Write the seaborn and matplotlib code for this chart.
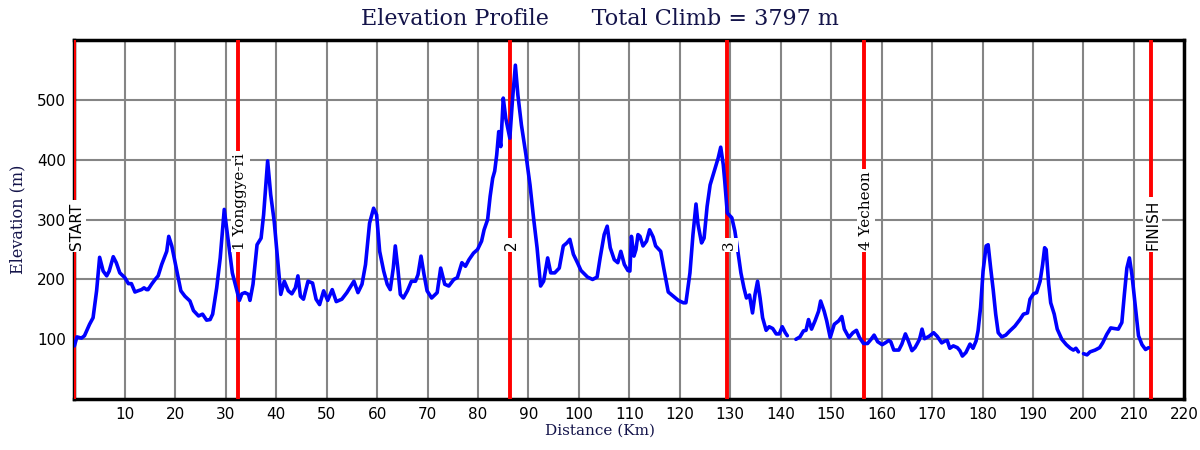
import numpy as np
import pandas as pd
import matplotlib
matplotlib.use('Agg')
import matplotlib.pyplot as plt
import seaborn as sns

# --- Data ---
nan = np.nan
km = [0.0, 0.5, 1.4, 2.0, 3.0, 3.7, 4.4, 5.0, 5.7, 6.4, 6.9, 7.7, 8.3, 9.0, 10.0, 10.7, 11.3, 12.0,
      12.6, 13.3, 13.8, 14.3, 14.6, 15.3, 16.0, 16.6, 17.3, 18.3, 18.7, 19.3, 20.3, 21.1, 21.9, 22.9,
      23.6, 24.6, 25.4, 26.2, 26.9, 27.4, 28.2, 28.9, 29.7, 30.5, 31.3, 32.2, 32.7, 33.2, 33.8, 34.5,
      34.8, 35.4, 36.2, 37.0, 37.5, 38.3, 38.9, 39.6, 40.3, 40.9, 41.6, 42.4, 43.1, 43.8, 44.3, 44.8,
      45.4, 46.3, 47.2, 47.9, 48.6, 49.4, 50.2, 51.1, 51.9, 53.0, 54.0, 55.4, 56.2, 57.0, 57.7, 58.5,
      59.3, 59.9, 60.5, 61.3, 62.0, 62.6, 63.2, 63.6, 64.1, 64.6, 65.2, 66.0, 66.8, 67.6, 68.1, 68.7,
      69.3, 69.9, 70.8, 71.9, 72.6, 73.4, 74.2, 75.2, 75.9, 76.8, 77.5, 78.2, 79.1, 79.9, 80.7, 81.2,
      81.9, 82.4, 82.9, 83.3, 83.7, 84.1, 84.5, 85.0, 85.5, 86.3, 86.8, 87.4, 87.9, 88.6, 89.5, 90.3,
      91.0, 91.7, 92.4, 93.0, 93.8, 94.4, 95.2, 96.1, 96.9, 97.6, 98.2, 98.9, 99.7, 100.4, 101.7,
      102.7, 103.6, 104.2, 105.0, 105.6, 106.2, 107.0, 107.7, 108.3, 109.0, 109.7, 110.1, 110.4,
      110.9, 111.3, 111.7, 112.1, 112.7, 113.4, 114.0, 114.7, 115.2, 116.2, 116.8, 117.7, 118.7,
      119.7, 120.7, 121.2, 122.0, 122.6, 123.2, 123.6, 124.3, 124.8, 125.4, 126.0, 126.6, 127.2,
      127.6, 128.1, 128.6, 128.9, 129.4, 130.3, 130.9, 131.4, 132.1, 132.7, 133.2, 133.8, 134.4,
      134.9, 135.4, 135.9, 136.4, 137.1, 137.7, 138.4, 139.1, 139.7, 140.3, 140.9, 141.3, 142.1,
      143.0, 143.8, 144.5, 145.0, 145.5, 146.1, 146.8, 147.5, 147.9, 148.6, 149.1, 149.8, 150.6,
      151.5, 152.1, 152.6, 153.5, 154.3, 155.0, 155.6, 156.4, 157.2, 157.9, 158.5, 159.2, 160.1,
      160.7, 161.4, 161.8, 162.4, 163.4, 164.0, 164.7, 165.3, 166.0, 166.6, 167.0, 167.5, 168.0,
      168.5, 169.4, 170.3, 171.0, 171.9, 172.5, 173.0, 173.5, 174.2, 175.0, 175.5, 176.0, 176.7,
      177.5, 178.1, 178.7, 179.1, 179.6, 180.1, 180.7, 181.1, 181.6, 182.1, 182.6, 183.1, 183.8,
      184.6, 185.4, 186.4, 187.4, 188.1, 188.9, 189.4, 190.1, 190.7, 191.4, 191.9, 192.3, 192.6,
      193.1, 193.5, 194.2, 194.8, 195.7, 196.6, 197.4, 198.0, 198.5, 199.0, 199.5, 200.0, 200.7,
      201.3, 202.3, 203.2, 203.8, 204.6, 205.4, 206.1, 206.9, 207.6, 208.1, 208.6, 209.1, 209.6,
      210.3, 210.9, 211.6, 212.3, 212.9]
elev = [89, 104, 102, 106, 125, 136, 181, 237, 214, 206, 214, 238, 228, 211, 203, 193, 193, 179,
        181, 183, 186, 183, 183, 192, 200, 206, 225, 247, 272, 256, 214, 181, 172, 164,
        148, 139, 142, 132, 133, 142, 186, 236, 317, 264, 211, 181, 165, 176, 178, 175,
        165, 192, 258, 269, 308, 398, 342, 297, 231, 175, 197, 181, 176, 186, 206, 172,
        167, 197, 194, 167, 158, 181, 165, 183, 163, 167, 178, 197, 178, 192, 225, 294,
        319, 308, 247, 214, 192, 183, 219, 256, 219, 175, 169, 181, 197, 197, 208, 239,
        208, 181, 169, 178, 219, 192, 189, 200, 203, 228, 222, 233, 244, 250, 264, 283,
        300, 339, 369, 381, 408, 447, 422, 503, 469, 436, 497, 558, 508, 458, 408, 358,
        303, 253, 189, 197, 236, 211, 211, 219, 256, 261, 267, 242, 228, 215, 204,
        200, 204, 236, 275, 289, 253, 233, 228, 247, 225, 215, 214, 272,
        239, 250, 275, 272, 256, 264, 283, 271, 256, 247, 219, 179, 172,
        165, 161, 161, 211, 275, 326, 292, 261, 269, 322, 358, 375, 392,
        403, 421, 392, 364, 311, 303, 281, 253, 211, 186, 169, 174, 144,
        175, 197, 169, 136, 115, 121, 118, 109, 109, 121, 111, 106, nan,
        100, 104, 114, 115, 133, 117, 131, 147, 164, 147, 131, 103, 125,
        131, 138, 117, 103, 111, 115, 103, 93, 93, 100, 107, 96, 91,
        94, 98, 96, 82, 82, 92, 109, 97, 81, 86, 92, 100, 117,
        101, 105, 111, 105, 94, 97, 98, 85, 89, 86, 81, 72, 78,
        92, 85, 97, 114, 153, 214, 256, 258, 219, 183, 142, 111, 104,
        107, 114, 122, 133, 142, 144, 167, 176, 178, 197, 225, 253, 250,
        192, 161, 142, 117, 100, 91, 85, 82, 85, 79, nan, 76, 74,
        79, 82, 86, 94, 108, 119, 118, 117, 128, 175, 219, 236, 208,
        153, 106, 91, 83, 86]

# checkpoint markers
cp_km = [0.0, 32.5, 86.3, 129.4, 156.5, 213.3]
cp_names = ['START', '1 Yonggye-ri', '2', '3', '4 Yecheon', 'FINISH']
cp_fonts = ['DejaVu Sans', 'DejaVu Serif', 'DejaVu Sans', 'DejaVu Serif', 'DejaVu Serif', 'DejaVu Sans']

x_ticks = list(range(10, 230, 10))
y_ticks = [100, 200, 300, 400, 500]

# split the profile where there are gaps
df = pd.DataFrame({'km': km, 'elev': elev})
df['seg'] = df['elev'].isna().cumsum()
df = df.dropna()

sns.set_style('white')
plt.rcParams['font.family'] = ['DejaVu Serif']

navy = '#14144a'
fig = plt.figure(figsize=(12, 4.5), dpi=100)
ax = fig.add_axes([0.062, 0.113, 0.925, 0.798])

for xk in cp_km:
    ax.axvline(xk, color='red', lw=2.8, zorder=3)

sns.lineplot(data=df, x='km', y='elev', units='seg', estimator=None,
             color='blue', lw=2.6, ax=ax, zorder=4)

for xk, name, fam in zip(cp_km, cp_names, cp_fonts):
    ax.text(xk + 0.4, 250, name, rotation=90, ha='center', va='bottom', fontsize=11,
            family=fam, color='black', zorder=5,
            bbox=dict(facecolor='white', edgecolor='none', pad=1.5))

ax.set_xlim(0, 220)
ax.set_ylim(0, 600)
ax.set_xticks(x_ticks)
ax.set_yticks(y_ticks)
ax.grid(True, color='#858585', lw=1.5, zorder=0)
ax.set_axisbelow(True)
ax.tick_params(length=0, labelsize=11, pad=6, labelcolor='black')
for lab in ax.get_xticklabels() + ax.get_yticklabels():
    lab.set_family('DejaVu Sans')

for s in ax.spines.values():
    s.set_color('black')
    s.set_linewidth(2.5)

ax.set_xlabel('')
ax.set_ylabel('Elevation (m)', color=navy, fontsize=11.5, labelpad=8)
fig.text(0.5, 0.042, 'Distance (Km)', ha='center', va='center', color=navy, fontsize=11)
fig.suptitle('Elevation Profile      Total Climb = 3797 m', x=0.5, y=0.982, va='top',
             color=navy, fontsize=16)

fig.savefig('out.png', dpi=100)
